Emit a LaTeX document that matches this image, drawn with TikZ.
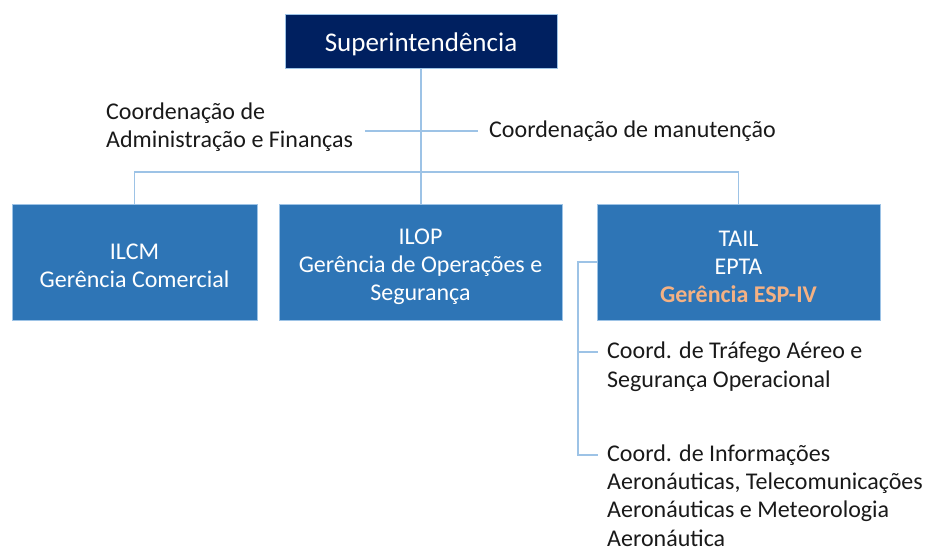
\documentclass[tikz,border=0pt]{standalone}
\usepackage{fontspec}
\setmainfont{Carlito}
\definecolor{navy}{HTML}{002060}
\definecolor{boxblue}{HTML}{2E75B6}
\definecolor{lineblue}{HTML}{9DC3E6}
\definecolor{peach}{HTML}{F4B183}
\newcommand{\topstrut}[1]{\rule{0pt}{#1}}
\begin{document}
\begin{tikzpicture}[x=1pt,y=-1pt,
  conn/.style={draw=lineblue,line width=1.2pt},
  unitbox/.style={rectangle,fill=boxblue,draw=lineblue,line width=0.6pt,text=white,align=center,minimum height=116pt,inner sep=0pt,font=\fontsize{24}{28}\selectfont},
  toptext/.style={rectangle,fill=navy,draw=lineblue,line width=0.6pt,text=white,minimum width=272pt,minimum height=54pt,inner sep=0pt,font=\fontsize{27}{30}\selectfont},
  label/.style={anchor=base west,align=left,inner sep=0pt,text=black!90,font=\fontsize{24}{28.3}\selectfont}
]
\useasboundingbox (0,0) rectangle (927,548);
\node[toptext] (sup) at (421,41) {\topstrut{26pt}Superintendência};
\node[unitbox,minimum width=245pt] (ilcm) at (134.5,262) {\topstrut{23pt}ILCM\\Gerência Comercial};
\node[unitbox,minimum width=283pt] (ilop) at (420.5,262) {\topstrut{26pt}ILOP\\Gerência de Operações e\\Segurança};
\node[unitbox,minimum width=283pt] (tail) at (738.5,262) {\topstrut{26pt}TAIL\\EPTA\\\textcolor{peach}{\bfseries Gerência ESP-IV}};

\node[label] (adm) at (106,148) {Coordenação de\\Administração e Finanças};
\node[label] (man) at (489,138) {Coordenação de manutenção};
\node[label] (c1) at (607,387) {Coord. de Tráfego Aéreo e\\Segurança Operacional};
\node[label] (c2) at (607,546) {Coord. de Informações\\Aeronáuticas, Telecomunicações\\Aeronáuticas e Meteorologia\\Aeronáutica};

\coordinate (bus) at (421,172);
\coordinate (sl) at (365,131);
\coordinate (sr) at (478,131);
\coordinate (trunk) at (578,262);
\coordinate (b1) at (598,352);
\coordinate (b2) at (598,455);

\draw[conn] (sup.south) -- (sup.south |- ilop.north);
\draw[conn] (ilcm.north) -- (ilcm.north |- bus) -- (tail.north |- bus) -- (tail.north);
\draw[conn] (sl) -- (sr);
\draw[conn] (tail.west) -- (trunk) -- (trunk |- b2) -- (b2);
\draw[conn] (trunk |- b1) -- (b1);
\end{tikzpicture}
\end{document}
